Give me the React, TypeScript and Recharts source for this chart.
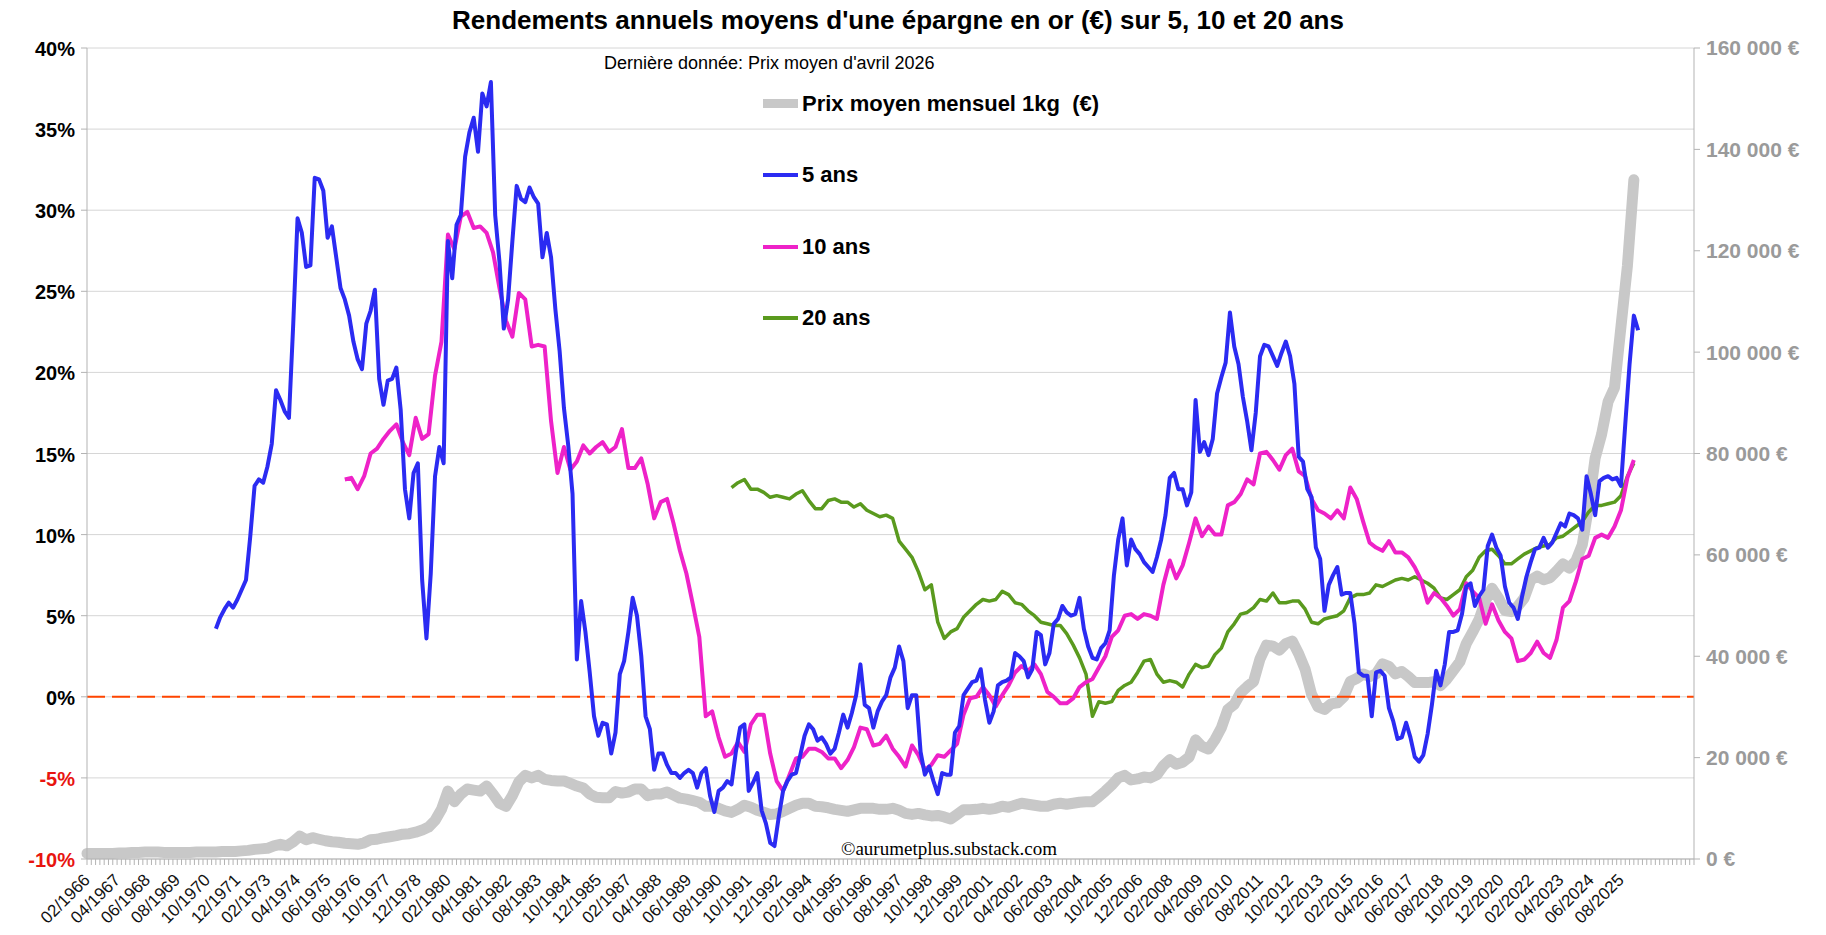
import {
  CartesianGrid,
  Legend,
  Line,
  LineChart,
  ReferenceLine,
  XAxis,
  YAxis,
} from "recharts";

// month index 0 = 02/1966, one step = one month
const AXIS_END = 748;

// 5-year annualised return (%), every 2 months from 02/1971
const FIVE_START = 60;
const FIVE_STEP = 2;
const fiveYear = [
  4.2, 4.9, 5.4, 5.8, 5.5, 6.0, 6.6, 7.2, 9.9, 13.0,
  13.4, 13.2, 14.2, 15.6, 18.9, 18.3, 17.6, 17.2, 23.0, 29.5,
  28.6, 26.5, 26.6, 32.0, 31.9, 31.2, 28.3, 29.0, 27.1, 25.2,
  24.5, 23.5, 21.9, 20.8, 20.2, 23.0, 23.8, 25.1, 19.6, 18.0,
  19.5, 19.6, 20.3, 17.7, 12.8, 11.0, 13.8, 14.4, 7.2, 3.6,
  7.6, 13.6, 15.4, 14.4, 28.1, 25.8, 29.1, 29.7, 33.3, 34.8,
  35.7, 33.6, 37.2, 36.4, 37.9, 29.7, 26.8, 22.7, 24.5, 28.1,
  31.5, 30.7, 30.5, 31.4, 30.8, 30.4, 27.1, 28.6, 27.1, 23.9,
  21.3, 17.8, 15.5, 12.5, 2.3, 5.9, 4.0, 1.5, -1.2, -2.4,
  -1.6, -1.7, -3.5, -2.2, 1.4, 2.2, 4.0, 6.1, 5.0, 2.5,
  -1.2, -2.0, -4.5, -3.5, -3.5, -4.2, -4.7, -4.7, -5.0, -4.7,
  -4.5, -4.7, -5.6, -4.7, -4.4, -6.1, -7.1, -5.8, -5.6, -5.2,
  -5.4, -3.4, -1.9, -1.7, -5.8, -5.3, -4.7, -7.0, -7.8, -9.0,
  -9.2, -7.4, -5.8, -5.2, -4.8, -4.7, -3.6, -2.4, -1.7, -2.0,
  -2.7, -2.5, -2.9, -3.5, -3.2, -2.2, -1.1, -1.9, -1.0, 0.1,
  2.0, -0.5, -0.7, -1.9, -0.9, -0.3, 0.1, 1.2, 1.8, 3.1,
  2.2, -0.7, 0.1, 0.1, -3.4, -4.8, -4.3, -5.2, -6.0, -4.7,
  -4.8, -4.8, -2.2, -1.8, 0.1, 0.5, 0.9, 1.0, 1.7, -0.2,
  -1.6, -0.9, 0.7, 0.9, 1.0, 1.2, 2.7, 2.5, 2.2, 1.2,
  1.7, 4.0, 3.8, 2.0, 2.7, 4.5, 4.8, 5.6, 5.2, 5.0,
  5.1, 6.1, 4.2, 3.1, 2.4, 2.3, 3.0, 3.3, 4.1, 7.5,
  9.7, 11.0, 8.1, 9.7, 9.1, 8.8, 8.3, 8.0, 7.7, 8.6,
  9.7, 11.2, 13.5, 13.8, 12.8, 12.8, 11.8, 12.6, 18.3, 15.1,
  15.7, 14.9, 15.9, 18.7, 19.7, 20.6, 23.7, 21.6, 20.5, 18.5,
  17.0, 15.2, 17.5, 21.0, 21.7, 21.6, 21.0, 20.4, 21.2, 21.9,
  21.0, 19.3, 14.8, 14.5, 12.8, 12.3, 9.2, 8.5, 5.3, 6.9,
  7.5, 8.0, 6.3, 6.4, 6.4, 4.5, 1.5, 1.3, 1.3, -1.2,
  1.5, 1.6, 1.3, -0.7, -1.5, -2.6, -2.5, -1.6, -2.5, -3.7,
  -4.0, -3.6, -2.3, -0.5, 1.6, 0.7, 2.0, 4.0, 4.0, 4.1,
  5.1, 6.8, 7.0, 5.6, 6.2, 6.6, 9.3, 10.0, 9.2, 8.7,
  6.8, 5.8, 5.5, 4.8, 6.2, 7.4, 8.3, 9.1, 9.2, 9.8,
  9.2, 9.5, 10.1, 10.7, 10.5, 11.3, 11.2, 11.0, 10.3, 13.6,
  12.5, 11.2, 13.3, 13.5, 13.6, 13.4, 13.5, 13.0, 16.8, 20.5,
  23.5, 22.6,
];

// 10-year annualised return (%), every 3 months from 02/1976
const TEN_START = 120;
const TEN_STEP = 3;
const tenYear = [
  13.4, 13.5, 12.8, 13.6, 15.0, 15.3, 15.9, 16.4, 16.8, 15.7,
  14.9, 17.2, 15.9, 16.2, 19.8, 21.9, 28.5, 27.6, 29.6, 29.9,
  28.9, 29.0, 28.6, 27.4, 25.2, 23.2, 22.2, 24.9, 24.5, 21.6,
  21.7, 21.6, 17.0, 13.8, 15.4, 14.0, 14.5, 15.5, 15.0, 15.4,
  15.7, 15.1, 15.4, 16.5, 14.1, 14.1, 14.7, 13.1, 11.0, 12.0,
  12.2, 10.7, 9.0, 7.6, 5.7, 3.7, -1.2, -0.9, -2.5, -3.7,
  -3.5, -2.8, -3.4, -1.7, -1.1, -1.1, -3.5, -5.2, -5.8, -4.8,
  -3.8, -3.7, -3.2, -3.2, -3.4, -3.8, -3.8, -4.4, -3.9, -3.1,
  -1.9, -2.0, -3.0, -2.9, -2.4, -3.2, -3.7, -4.3, -3.0, -3.6,
  -4.5, -4.2, -3.6, -3.7, -3.3, -2.9, -1.1, -0.1, 0.0, 0.6,
  0.1, -0.6, 0.1, 0.7, 1.5, 1.9, 1.6, 2.0, 1.4, 0.3,
  0.0, -0.4, -0.4, -0.1, 0.6, 0.9, 1.1, 1.8, 2.5, 3.7,
  4.1, 5.0, 5.1, 4.8, 5.1, 5.0, 4.8, 6.9, 8.4, 7.3,
  8.1, 9.5, 11.0, 9.9, 10.5, 10.0, 10.0, 11.8, 12.0, 12.5,
  13.4, 13.1, 15.0, 15.1, 14.6, 14.0, 14.9, 15.3, 13.9, 13.6,
  12.2, 11.5, 11.3, 11.0, 11.5, 11.0, 12.9, 12.2, 10.8, 9.5,
  9.2, 9.0, 9.6, 8.9, 8.9, 8.6, 8.0, 7.2, 5.8, 6.4,
  6.1, 5.6, 5.0, 5.4, 7.0, 6.5, 6.1, 4.5, 5.7, 4.7,
  4.0, 3.6, 2.2, 2.3, 2.7, 3.4, 2.7, 2.4, 3.5, 5.5,
  5.9, 7.1, 8.5, 8.7, 9.8, 10.0, 9.8, 10.5, 11.5, 13.5,
  14.6,
];

// 20-year annualised return (%), every 3 months from 02/1991
const TWENTY_START = 300;
const TWENTY_STEP = 3;
const twentyYear = [
  12.9, 13.2, 13.4, 12.8, 12.8, 12.6, 12.3, 12.4, 12.3, 12.2,
  12.5, 12.7, 12.1, 11.6, 11.6, 12.1, 12.2, 12.0, 12.0, 11.7,
  11.9, 11.5, 11.3, 11.1, 11.2, 11.0, 9.6, 9.1, 8.6, 7.7,
  6.6, 6.9, 4.6, 3.6, 4.0, 4.2, 4.9, 5.3, 5.7, 6.0,
  5.9, 6.0, 6.5, 6.3, 5.8, 5.7, 5.3, 5.0, 4.6, 4.5,
  4.4, 4.4, 3.9, 3.2, 2.4, 1.4, -1.2, -0.3, -0.4, -0.3,
  0.4, 0.7, 0.9, 1.5, 2.2, 2.3, 1.4, 0.9, 1.0, 0.9,
  0.6, 1.4, 2.0, 1.8, 1.9, 2.6, 3.0, 4.0, 4.5, 5.1,
  5.2, 5.5, 6.0, 5.9, 6.4, 5.8, 5.8, 5.9, 5.9, 5.4,
  4.6, 4.5, 4.8, 4.9, 5.0, 5.3, 6.1, 6.3, 6.3, 6.4,
  6.9, 6.8, 7.0, 7.2, 7.3, 7.2, 7.4, 7.2, 7.0, 6.7,
  6.1, 6.0, 6.3, 6.6, 7.4, 7.8, 8.6, 9.0, 9.1, 8.7,
  8.2, 8.2, 8.5, 8.8, 9.0, 9.2, 9.3, 9.4, 9.8, 9.9,
  10.2, 10.5, 10.8, 11.4, 11.8, 11.8, 11.9, 12.0, 12.4, 13.6,
  14.4,
];

// monthly average price of 1 kg of gold, thousands of €, every 3 months from 02/1966
const GOLD_START = 0;
const GOLD_STEP = 3;
const goldPrice = [
  1.1, 1.1, 1.1, 1.1, 1.1, 1.2, 1.2, 1.3, 1.3, 1.4,
  1.4, 1.4, 1.3, 1.3, 1.3, 1.3, 1.3, 1.4, 1.4, 1.4,
  1.4, 1.5, 1.5, 1.5, 1.6, 1.7, 1.9, 2.0, 2.1, 2.6,
  2.9, 2.6, 3.4, 4.5, 3.8, 4.2, 3.9, 3.6, 3.4, 3.3,
  3.1, 3.0, 2.9, 3.2, 3.8, 3.9, 4.2, 4.4, 4.6, 4.9,
  5.0, 5.3, 5.7, 6.3, 7.6, 9.8, 13.4, 11.3, 12.8, 13.8,
  13.6, 13.4, 14.4, 12.8, 11.0, 10.4, 12.5, 15.2, 16.5, 16.0,
  16.5, 15.7, 15.5, 15.4, 15.4, 14.9, 14.4, 14.0, 12.8, 12.2,
  12.1, 12.1, 13.3, 13.0, 13.2, 13.8, 13.8, 12.5, 12.8, 12.8,
  13.2, 12.6, 12.0, 11.8, 11.5, 11.2, 10.4, 10.4, 10.0, 9.5,
  9.2, 9.8, 10.6, 10.2, 9.6, 9.2, 8.8, 8.9, 9.4, 10.0,
  10.6, 11.0, 11.0, 10.4, 10.3, 10.1, 9.8, 9.6, 9.4, 9.7,
  10.0, 10.0, 10.0, 9.8, 9.8, 10.0, 9.6, 9.0, 8.8, 9.0,
  8.7, 8.5, 8.6, 8.3, 7.9, 8.8, 9.7, 9.7, 9.8, 10.0,
  9.8, 10.0, 10.4, 10.2, 10.6, 11.0, 10.8, 10.6, 10.4, 10.4,
  10.8, 11.0, 10.8, 11.0, 11.2, 11.3, 11.3, 12.3, 13.4, 14.6,
  16.0, 16.5, 15.6, 15.8, 16.2, 16.0, 16.6, 18.4, 19.6, 18.7,
  19.1, 20.1, 23.5, 22.2, 21.7, 23.5, 25.9, 29.5, 30.5, 32.8,
  34.0, 35.0, 39.5, 42.2, 42.0, 41.2, 42.5, 43.0, 40.5, 37.4,
  32.5, 30.0, 29.5, 30.6, 30.8, 32.0, 35.0, 35.6, 36.5, 36.0,
  36.5, 38.5, 38.0, 36.5, 37.0, 36.0, 34.8, 34.8, 34.8, 35.0,
  34.2, 35.5, 37.2, 38.9, 42.5, 44.8, 47.3, 51.0, 53.4, 51.5,
  49.0, 48.8, 49.9, 51.5, 55.0, 55.8, 55.1, 55.5, 56.8, 58.2,
  57.4, 58.8, 62.0, 69.7, 79.1, 83.8, 90.2, 93.0, 105.0, 117.0,
  134.0,
];

const pctTicks = [-10, -5, 0, 5, 10, 15, 20, 25, 30, 35, 40];
const eurTicks = [0, 20, 40, 60, 80, 100, 120, 140, 160];
const monthTicks = Array.from({ length: AXIS_END / 2 + 1 }, (_, i) => i * 2);

const GOLD = "#c8c8c8";
const BLUE = "#2b2bf2";
const PINK = "#ee22c8";
const GREEN = "#5a9a1e";
const SANS = "'Liberation Sans', Arial, sans-serif";

const toSeries = (values: number[], start: number, step: number) =>
  values.map((v, i) => ({ m: start + i * step, v }));

const goldData = toSeries(goldPrice, GOLD_START, GOLD_STEP);
const fiveData = toSeries(fiveYear, FIVE_START, FIVE_STEP);
const tenData = toSeries(tenYear, TEN_START, TEN_STEP);
const twentyData = toSeries(twentyYear, TWENTY_START, TWENTY_STEP);

const LEGEND_ITEMS = [
  { label: "Prix moyen mensuel 1kg  (€)", color: GOLD, thickness: 9 },
  { label: "5 ans", color: BLUE, thickness: 4 },
  { label: "10 ans", color: PINK, thickness: 4 },
  { label: "20 ans", color: GREEN, thickness: 4 },
];

function monthLabel(m: number) {
  const total = 1 + m;
  const year = 1966 + Math.floor(total / 12);
  const month = (total % 12) + 1;
  return `${String(month).padStart(2, "0")}/${year}`;
}

function MonthTick({ x, y, payload }: any) {
  const m = payload.value;
  if (m % 14 !== 0 || m > 714) return null;
  const ax = x + 4;
  const ay = y + 14;
  return (
    <text
      x={ax}
      y={ay}
      transform={`rotate(-45, ${ax}, ${ay})`}
      textAnchor="end"
      fontSize={17}
      fontFamily={SANS}
      fill="#111"
    >
      {monthLabel(m)}
    </text>
  );
}

function PctTick({ x, y, payload }: any) {
  const v = payload.value;
  return (
    <text
      x={x}
      y={y}
      dy="0.4em"
      textAnchor="end"
      fontSize={20}
      fontWeight="bold"
      fontFamily={SANS}
      fill={v < 0 ? "#e8140f" : "#000"}
    >
      {v}%
    </text>
  );
}

function EurTick({ x, y, payload }: any) {
  const v = payload.value;
  return (
    <text
      x={x}
      y={y}
      dy="0.355em"
      textAnchor="start"
      fontSize={21}
      fontWeight="bold"
      fontFamily={SANS}
      fill="#9a9a9a"
    >
      {v === 0 ? "0 €" : `${v} 000 €`}
    </text>
  );
}

function LegendBox() {
  return (
    <div style={{ fontFamily: SANS }}>
      {LEGEND_ITEMS.map((item) => (
        <div
          key={item.label}
          style={{ height: 71.5, display: "flex", alignItems: "center" }}
        >
          <div
            style={{
              width: 35,
              height: item.thickness,
              background: item.color,
              marginRight: 4,
            }}
          />
          <span
            style={{
              fontSize: 22,
              fontWeight: "bold",
              color: "#000",
              whiteSpace: "pre",
            }}
          >
            {item.label}
          </span>
        </div>
      ))}
    </div>
  );
}

export default function App() {
  return (
    <div
      style={{
        position: "absolute",
        left: 0,
        top: 0,
        width: 1826,
        height: 935,
        background: "#fff",
      }}
    >
      <LineChart
        width={1826}
        height={935}
        margin={{ top: 48, right: 7, bottom: 6, left: 7 }}
      >
        <CartesianGrid
          yAxisId="pct"
          vertical={false}
          stroke="#d6d6d6"
          strokeWidth={1}
        />
        <XAxis
          type="number"
          dataKey="m"
          domain={[0, AXIS_END]}
          ticks={monthTicks}
          interval={0}
          height={70}
          tickSize={6}
          tick={<MonthTick />}
          tickLine={{ stroke: "#b3b3b3" }}
          axisLine={{ stroke: "#b3b3b3" }}
        />
        <YAxis
          yAxisId="pct"
          domain={[-10, 40]}
          ticks={pctTicks}
          width={80}
          tickSize={6}
          tickMargin={6}
          tick={<PctTick />}
          tickLine={{ stroke: "#b3b3b3" }}
          axisLine={{ stroke: "#b3b3b3" }}
        />
        <YAxis
          yAxisId="eur"
          orientation="right"
          domain={[0, 160]}
          ticks={eurTicks}
          width={125}
          tickSize={6}
          tickMargin={6}
          tick={<EurTick />}
          tickLine={{ stroke: "#b3b3b3" }}
          axisLine={{ stroke: "#b3b3b3" }}
        />
        <Line
          yAxisId="eur"
          data={goldData}
          dataKey="v"
          stroke={GOLD}
          strokeWidth={11}
          strokeLinejoin="round"
          strokeLinecap="round"
          dot={false}
          isAnimationActive={false}
        />
        <ReferenceLine
          yAxisId="pct"
          y={0}
          stroke="#ff4500"
          strokeWidth={2}
          strokeDasharray="18 7"
        />
        <Line
          yAxisId="pct"
          data={twentyData}
          dataKey="v"
          stroke={GREEN}
          strokeWidth={3.5}
          strokeLinejoin="round"
          dot={false}
          isAnimationActive={false}
        />
        <Line
          yAxisId="pct"
          data={tenData}
          dataKey="v"
          stroke={PINK}
          strokeWidth={4}
          strokeLinejoin="round"
          dot={false}
          isAnimationActive={false}
        />
        <Line
          yAxisId="pct"
          data={fiveData}
          dataKey="v"
          stroke={BLUE}
          strokeWidth={4}
          strokeLinejoin="round"
          dot={false}
          isAnimationActive={false}
        />
        <Legend
          layout="vertical"
          align="center"
          verticalAlign="middle"
          content={() => <LegendBox />}
          wrapperStyle={{ position: "absolute", left: 763, top: 68, width: 420 }}
        />
      </LineChart>

      <div
        style={{
          position: "absolute",
          left: 0,
          top: 7,
          width: 1796,
          textAlign: "center",
          fontFamily: SANS,
          fontSize: 26,
          lineHeight: 1,
          fontWeight: "bold",
          color: "#000",
        }}
      >
        Rendements annuels moyens d'une épargne en or (€) sur 5, 10 et 20 ans
      </div>
      <div
        style={{
          position: "absolute",
          left: 604,
          top: 54,
          fontFamily: SANS,
          fontSize: 18,
          lineHeight: 1,
          color: "#000",
          whiteSpace: "nowrap",
        }}
      >
        Dernière donnée: Prix moyen d'avril 2026
      </div>
      <div
        style={{
          position: "absolute",
          left: 841,
          top: 839,
          fontFamily: "'Liberation Serif', 'Times New Roman', serif",
          fontSize: 19,
          lineHeight: 1,
          color: "#000",
          whiteSpace: "nowrap",
        }}
      >
        ©aurumetplus.substack.com
      </div>
    </div>
  );
}
